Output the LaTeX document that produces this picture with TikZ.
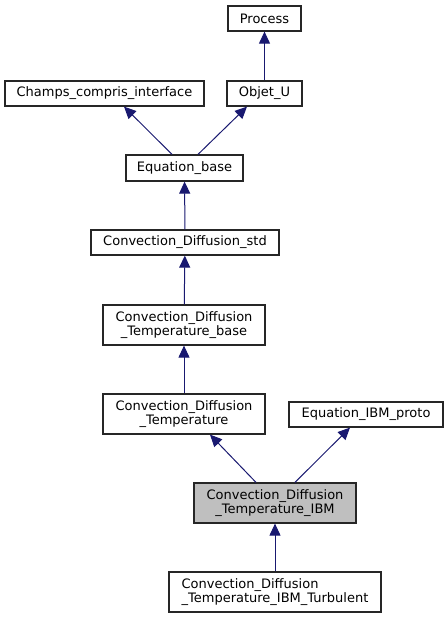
\documentclass[tikz,border=0pt]{standalone}
\usepackage{fontspec}
\setmainfont{DejaVu Sans}
\usetikzlibrary{arrows.meta}
\definecolor{edgeblue}{HTML}{191970}
\definecolor{rootgray}{HTML}{BFBFBF}

\begin{document}
\begin{tikzpicture}[
  x=1pt, y=-1pt,
  box/.style={draw=black!85, line width=1.2pt, minimum height=25pt, inner sep=2pt,
              align=center, font=\fontsize{13}{14}\selectfont},
  arr/.style={-{Triangle[length=12pt,width=11pt]}, edgeblue, line width=1pt}
]
\useasboundingbox (0,0) rectangle (447,619);
\node[box, minimum width=73pt] (process) at (264.5,18.5) {Process};
\node[box, minimum width=199pt] (champs) at (104.5,93.5) {Champs\_compris\_interface};
\node[box, minimum width=75pt] (objetu) at (264.5,93.5) {Objet\_U};
\node[box, minimum width=117pt, minimum height=26pt] (eqbase) at (184.5,168) {Equation\_base};
\node[box, minimum width=188pt] (cdstd) at (185,242.5) {Convection\_Diffusion\_std};
\node[box, minimum width=162pt, minimum height=40pt] (cdtbase) at (184,325)
  {Convection\_Diffusion\\\_Temperature\_base};
\node[box, minimum width=162pt, minimum height=40pt] (cdt) at (184,414)
  {Convection\_Diffusion\\\_Temperature};
\node[box, minimum width=154pt] (eqibm) at (366,414.5) {Equation\_IBM\_proto};
\node[box, fill=rootgray, minimum width=162pt, minimum height=40pt] (cdtibm) at (275,503)
  {Convection\_Diffusion\\\_Temperature\_IBM};
\node[box, align=left, minimum width=212pt, minimum height=40pt] (cdtturb) at (275,592)
  {Convection\_Diffusion\\\_Temperature\_IBM\_Turbulent};
% inheritance
\draw[arr] (objetu) -- (process);
\draw[arr] ([xshift=-12.5pt]eqbase.north) -- ([xshift=19.5pt]champs.south);
\draw[arr] ([xshift=13.5pt]eqbase.north) -- ([xshift=-17.5pt]objetu.south);
\draw[arr] (cdstd) -- (eqbase);
\draw[arr] (cdtbase) -- (cdstd);
\draw[arr] (cdt) -- (cdtbase);
\draw[arr] ([xshift=-19pt]cdtibm.north) -- ([xshift=26pt]cdt.south);
\draw[arr] ([xshift=20pt]cdtibm.north) -- ([xshift=-16pt]eqibm.south);
\draw[arr] (cdtturb) -- (cdtibm);
\end{tikzpicture}
\end{document}
